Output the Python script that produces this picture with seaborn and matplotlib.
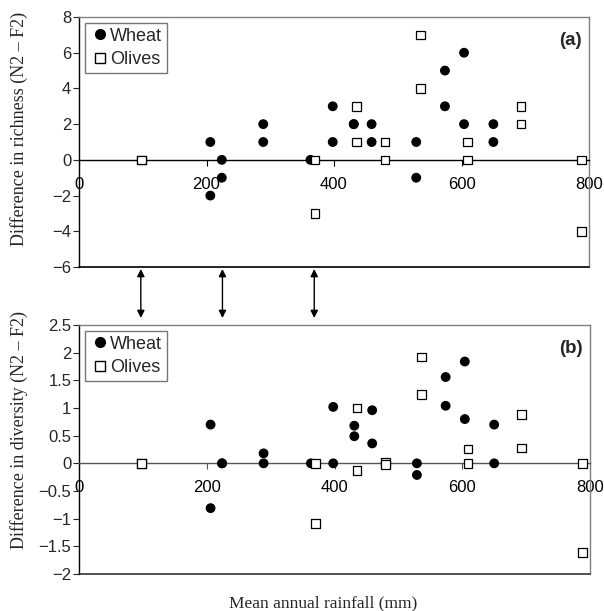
import numpy as np
import pandas as pd
import matplotlib
matplotlib.use('Agg')
import matplotlib.pyplot as plt
import seaborn as sns
from matplotlib.lines import Line2D
from matplotlib.patches import ConnectionPatch
from matplotlib.ticker import FuncFormatter, MultipleLocator
from matplotlib.transforms import blended_transform_factory

# Wheat sites: rainfall (mm), richness difference, diversity difference
wheat_rain = [206, 206, 224, 224, 289, 289, 363, 398, 398, 431, 431,
              459, 459, 529, 529, 574, 574, 604, 604, 650, 650]
wheat_rich = [1, -2, 0, -1, 2, 1, 0, 3, 1, 2, 2,
              2, 1, 1, -1, 5, 3, 6, 2, 2, 1]
wheat_div = [0.70, -0.81, 0, 0, 0.18, 0, 0, 1.02, 0, 0.68, 0.49,
             0.96, 0.36, 0, -0.21, 1.56, 1.04, 1.84, 0.80, 0.70, 0]

# Olive sites
olive_rain = [98, 98, 370, 370, 435, 435, 480, 480, 536, 536,
              609, 609, 693, 693, 788, 788]
olive_rich = [0, 0, 0, -3, 3, 1, 1, 0, 7, 4,
              1, 0, 3, 2, 0, -4]
olive_div = [0, 0, 0, -1.09, 1.0, -0.13, 0.02, -0.02, 1.92, 1.24,
             0.26, 0, 0.88, 0.28, 0, -1.61]

# sites linked between panels
arrow_x = [97, 225, 369]

df = pd.concat([
    pd.DataFrame({'rain': wheat_rain, 'richness': wheat_rich,
                  'diversity': wheat_div, 'crop': 'Wheat'}),
    pd.DataFrame({'rain': olive_rain, 'richness': olive_rich,
                  'diversity': olive_div, 'crop': 'Olives'}),
])

sns.set_style('ticks')
plt.rcParams['font.family'] = ['Liberation Sans', 'DejaVu Sans']

fig = plt.figure(figsize=(6.04, 6.11), dpi=100)
ax1 = fig.add_axes([79 / 604, 1 - 267 / 611, 510 / 604, 250 / 611])
ax2 = fig.add_axes([79 / 604, 1 - 574 / 611, 511 / 604, 249 / 611])

fmt = FuncFormatter(lambda v, p: f'{v:g}'.replace('-', '\u2212'))
serif = ['Liberation Serif', 'DejaVu Serif']

panels = [
    (ax1, 'richness', (-6, 8), 2, '(a)', 'Difference in richness (N2 \u2013 F2)', 'black', 0.552),
    (ax2, 'diversity', (-2, 2.5), 0.5, '(b)', 'Difference in diversity (N2 \u2013 F2)', '#555555', 0.58),
]

for ax, col, ylim, step, tag, ylab, zcol, ly in panels:
    sns.scatterplot(data=df, x='rain', y=col, hue='crop', style='crop',
                    markers={'Wheat': 'o', 'Olives': 's'},
                    palette={'Wheat': 'black', 'Olives': 'white'},
                    edgecolor='black', linewidth=0.9, s=38,
                    legend=False, ax=ax, zorder=3, clip_on=False)
    ax.set_xlim(0, 800)
    ax.set_ylim(*ylim)
    ax.yaxis.set_major_locator(MultipleLocator(step))
    ax.yaxis.set_major_formatter(fmt)
    ax.xaxis.set_major_locator(MultipleLocator(200))
    ax.xaxis.set_major_formatter(fmt)

    # x axis sits on the zero line
    ax.spines['bottom'].set_position(('data', 0))
    ax.spines['bottom'].set_color(zcol)
    ax.spines['bottom'].set_linewidth(1.0)
    ax.spines['left'].set_color('black')
    ax.spines['left'].set_linewidth(1.0)
    for s in ['top', 'right']:
        ax.spines[s].set_visible(True)
        ax.spines[s].set_color('#808080')
        ax.spines[s].set_linewidth(1.0)
    ax.axhline(ylim[0], color='black' if ax is ax1 else '#333333', lw=1.2, clip_on=False, zorder=4)

    ax.tick_params(axis='x', direction='out', length=4, width=0.8, pad=8,
                   labelsize=12, colors='black', color=zcol)
    ax.tick_params(axis='y', direction='out', length=4, width=0.8, pad=1.5,
                   labelsize=12)

    ax.set_xlabel('')
    ax.set_ylabel(ylab, family=serif, fontsize=13)
    ax.yaxis.set_label_coords(-0.10, ly)

    ax.text(0.985, 0.905, tag, transform=ax.transAxes, ha='right', va='center',
            fontsize=13.5, fontweight='bold')

    handles = [
        Line2D([], [], marker='o', ls='', markerfacecolor='black',
               markeredgecolor='black', markersize=7, label='Wheat'),
        Line2D([], [], marker='s', ls='', markerfacecolor='white',
               markeredgecolor='black', markersize=6.5, label='Olives'),
    ]
    leg = ax.legend(handles=handles, loc='upper left', bbox_to_anchor=(0.012, 0.975),
                    frameon=True, fancybox=False, fontsize=13, handletextpad=0.05,
                    handlelength=1.1, borderpad=0.25, labelspacing=0.35,
                    borderaxespad=0)
    leg.get_frame().set_edgecolor('#555555')
    leg.get_frame().set_linewidth(1.0)

fig.text(0.535, 1 - 603 / 611, 'Mean annual rainfall (mm)', family=serif,
         fontsize=12.5, ha='center', va='center')

# double-headed arrows linking panels
tA = blended_transform_factory(ax1.transData, fig.transFigure)
for xv in arrow_x:
    con = ConnectionPatch(xyA=(xv, 1 - 269 / 611), coordsA=tA,
                          xyB=(xv, 1 - 318 / 611), coordsB=tA,
                          arrowstyle='<|-|>', mutation_scale=11,
                          color='black', lw=1.0, shrinkA=0, shrinkB=0)
    fig.add_artist(con)

fig.savefig('out.png', dpi=100)
